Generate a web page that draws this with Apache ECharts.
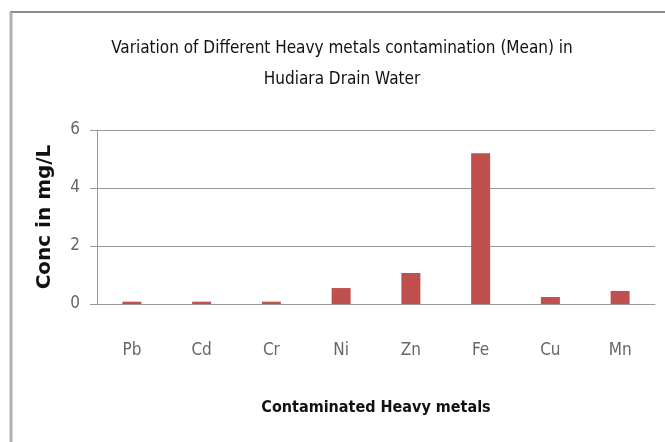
<!DOCTYPE html>
<html>
<head>
<meta charset="utf-8">
<script src="https://cdn.jsdelivr.net/npm/echarts@6/dist/echarts.min.js"></script>
<style>
    html, body { margin: 0; padding: 0; background: #fff; }
    #chart { width: 665px; height: 442px; }
</style>
</head>
<body>
<div id="chart"></div>
<script>
    // heavy metals and their mean concentration (mg/L)
    var metals = ['Pb', 'Cd', 'Cr', 'Ni', 'Zn', 'Fe', 'Cu', 'Mn'];
    var meanConc = [0.08, 0.08, 0.08, 0.55, 1.07, 5.2, 0.24, 0.45];
    var yTicks = [0, 2, 4, 6];

    var font = '"Liberation Sans Narrow", "DejaVu Sans Condensed", sans-serif';

    var myChart = echarts.init(document.getElementById('chart'));
    myChart.setOption({
        animation: false,
        graphic: [
            // frame of the figure
            { type: 'line', shape: { x1: 10, y1: 12, x2: 665, y2: 12 }, style: { stroke: '#8c8c8c', lineWidth: 2 } },
            { type: 'line', shape: { x1: 11, y1: 12, x2: 11, y2: 442 }, style: { stroke: '#b0b0b0', lineWidth: 3 } },
            {
                type: 'text', x: 342, y: 33,
                style: {
                    text: 'Variation of Different Heavy metals contamination (Mean) in\nHudiara Drain Water',
                    x: 0, y: 0,
                    textAlign: 'center', font: '17px ' + font, fill: '#111', lineHeight: 31
                }
            }
        ],
        grid: { left: 97, right: 10, top: 130, bottom: 138 },
        xAxis: {
            type: 'category',
            data: metals,
            axisLine: { lineStyle: { color: '#999', width: 1 } },
            axisTick: { show: false },
            axisLabel: { margin: 38, fontSize: 17, color: '#666', fontFamily: font },
            name: 'Contaminated Heavy metals',
            nameLocation: 'middle',
            nameGap: 96,
            nameTextStyle: { fontSize: 16, color: '#111', fontFamily: font, fontWeight: 'bold' }
        },
        yAxis: {
            type: 'value',
            min: yTicks[0],
            max: yTicks[yTicks.length - 1],
            interval: 2,
            axisLine: { show: true, lineStyle: { color: '#999' } },
            axisTick: { show: true, length: 7, lineStyle: { color: '#999' } },
            splitLine: { lineStyle: { color: '#999', width: 1 } },
            axisLabel: { margin: 17, fontSize: 17, color: '#666', fontFamily: font },
            name: 'Conc in mg/L',
            nameLocation: 'middle',
            nameGap: 42,
            nameTextStyle: { fontSize: 20, fontWeight: 'bold', color: '#111', fontFamily: 'DejaVu Sans, sans-serif' }
        },
        series: [{
            type: 'bar',
            data: meanConc,
            barWidth: 19,
            itemStyle: { color: '#C0504D' }
        }]
    });
</script>
</body>
</html>
